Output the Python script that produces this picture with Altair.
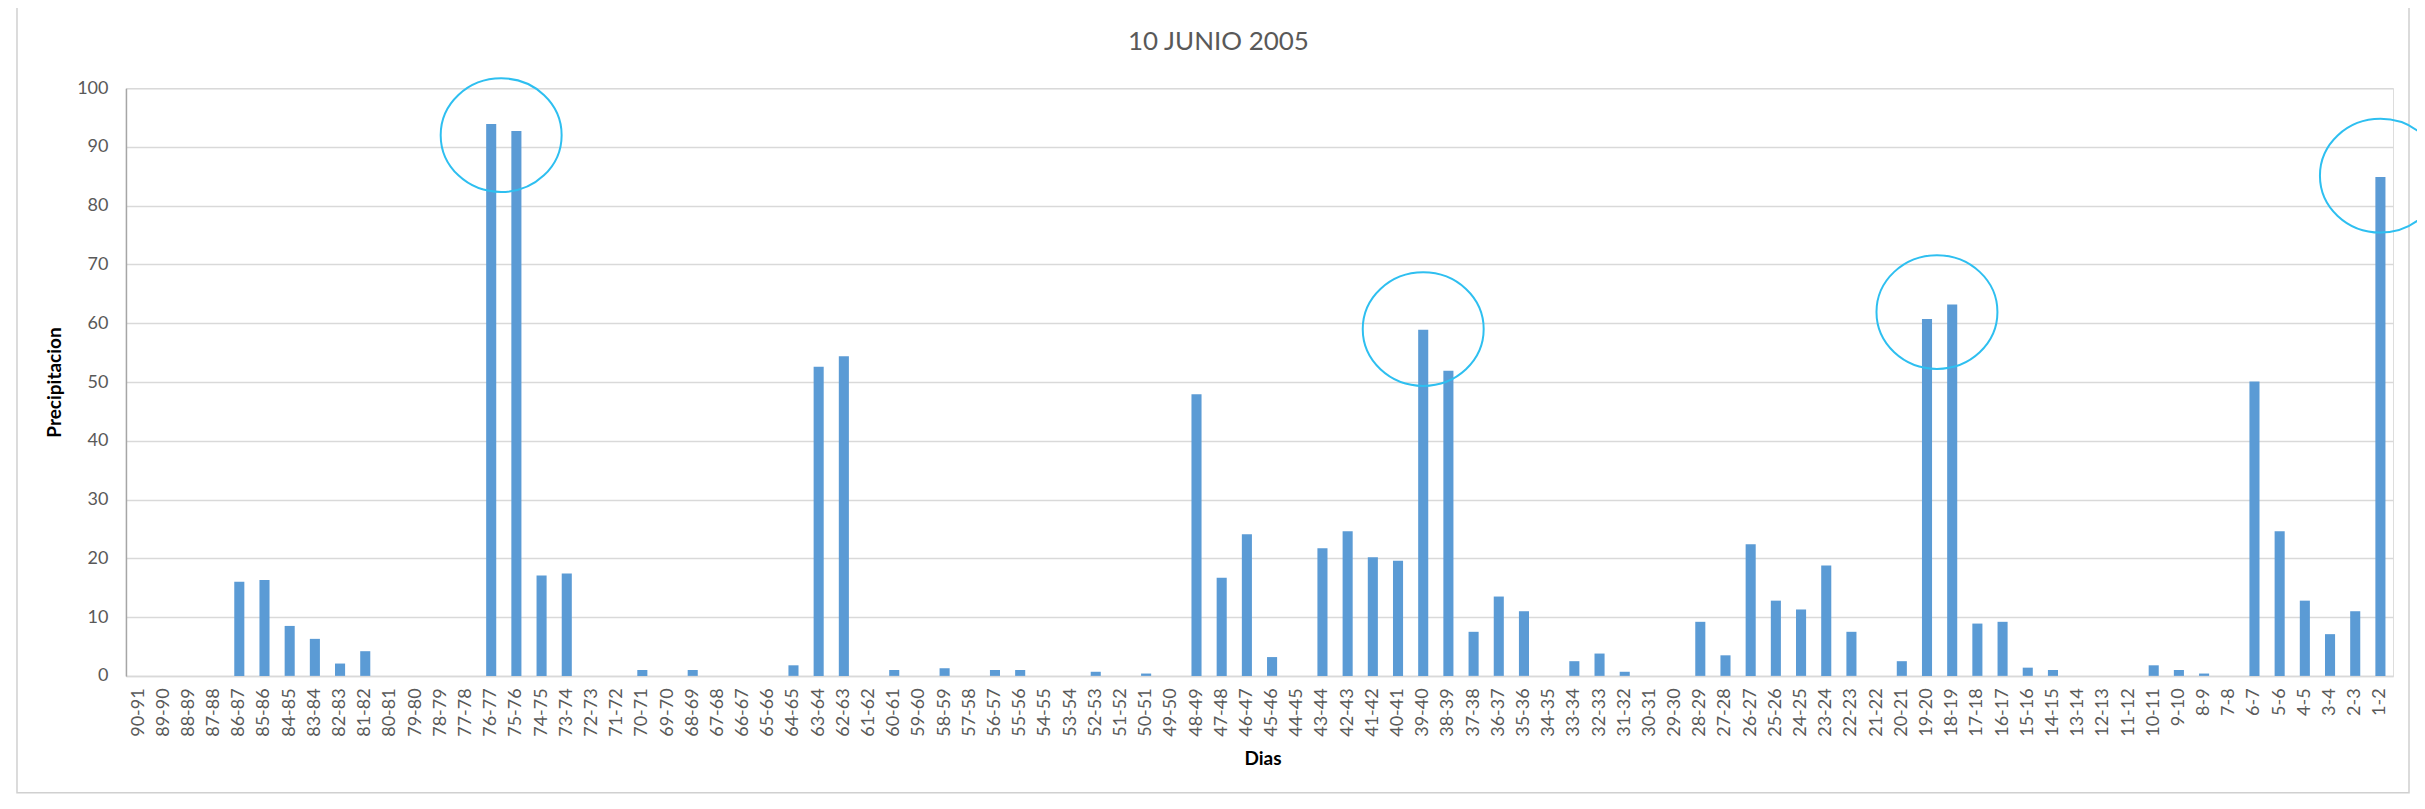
import altair as alt
import pandas as pd

dias = [
    "90-91", "89-90", "88-89", "87-88", "86-87", "85-86", "84-85", "83-84", "82-83", "81-82",
    "80-81", "79-80", "78-79", "77-78", "76-77", "75-76", "74-75", "73-74", "72-73", "71-72",
    "70-71", "69-70", "68-69", "67-68", "66-67", "65-66", "64-65", "63-64", "62-63", "61-62",
    "60-61", "59-60", "58-59", "57-58", "56-57", "55-56", "54-55", "53-54", "52-53", "51-52",
    "50-51", "49-50", "48-49", "47-48", "46-47", "45-46", "44-45", "43-44", "42-43", "41-42",
    "40-41", "39-40", "38-39", "37-38", "36-37", "35-36", "34-35", "33-34", "32-33", "31-32",
    "30-31", "29-30", "28-29", "27-28", "26-27", "25-26", "24-25", "23-24", "22-23", "21-22",
    "20-21", "19-20", "18-19", "17-18", "16-17", "15-16", "14-15", "13-14", "12-13", "11-12",
    "10-11", "9-10", "8-9", "7-8", "6-7", "5-6", "4-5", "3-4", "2-3", "1-2",
]
precipitacion = [
    0, 0, 0, 0, 16.0, 16.3, 8.5, 6.3, 2.1, 4.2,
    0, 0, 0, 0, 93.9, 92.7, 17.1, 17.4, 0, 0,
    1.0, 0, 1.0, 0, 0, 0, 1.8, 52.6, 54.4, 0,
    1.0, 0, 1.3, 0, 1.0, 1.0, 0, 0, 0.7, 0,
    0.4, 0, 47.9, 16.7, 24.1, 3.2, 0, 21.7, 24.6, 20.2,
    19.6, 58.9, 51.9, 7.5, 13.5, 11.0, 0, 2.5, 3.8, 0.7,
    0, 0, 9.2, 3.5, 22.4, 12.8, 11.3, 18.8, 7.5, 0,
    2.5, 60.7, 63.2, 8.9, 9.2, 1.4, 1.0, 0, 0, 0,
    1.8, 1.0, 0.4, 0, 50.1, 24.6, 12.8, 7.1, 11.0, 84.9,
]
y_ticks = [0, 10, 20, 30, 40, 50, 60, 70, 80, 90, 100]

# highlighted peaks (cyan ellipses)
circ_pair_dias = ["76-77", "19-20"]
circ_pair_val = [92.0, 61.9]
circ_single_dias = ["39-40", "1-2"]
circ_single_val = [59.0, 85.1]

FONT = "Lato"
GREY = "#595959"

df = pd.DataFrame({"Dias": dias, "Precipitacion": precipitacion})
df_pair = pd.DataFrame({"Dias": circ_pair_dias, "Precipitacion": circ_pair_val})
df_single = pd.DataFrame({"Dias": circ_single_dias, "Precipitacion": circ_single_val})
df_frame = pd.DataFrame({"k": [0]})

x_scale = alt.Scale(domain=dias, paddingInner=0.6, paddingOuter=0.3)
y_scale = alt.Scale(domain=[0, 100], nice=False)

x_axis = alt.Axis(
    title="Dias", labelAngle=-90, labelFontSize=18, labelColor=GREY, labelFont=FONT,
    ticks=False, tickSize=0, labelPadding=12, domainColor="#D9D9D9", domainWidth=1.5,
    grid=False, labelOverlap=False,
    titleFont=FONT, titleFontSize=19, titleFontWeight="bold", titleColor="#000000",
    titleX=1137, titleY=83, titleAlign="center", titleBaseline="middle",
)
y_axis = alt.Axis(
    title="Precipitacion", values=y_ticks, labelFontSize=18, labelColor=GREY, labelFont=FONT,
    ticks=False, tickSize=0, labelPadding=18, domainColor="#A6A6A6", domainWidth=1.5,
    grid=True, gridColor="#D9D9D9", gridWidth=1.5,
    titleFont=FONT, titleFontSize=19, titleFontWeight="bold", titleColor="#000000",
    titleX=-71, titleY=294, titleAngle=-90, titleAlign="center", titleBaseline="middle",
)

bars = alt.Chart(df).mark_bar(color="#5B9BD5").encode(
    x=alt.X("Dias:N", sort=dias, scale=x_scale, axis=x_axis),
    y=alt.Y("Precipitacion:Q", scale=y_scale, axis=y_axis),
)

ell_path = "M -1 0 A 1 0.94 0 1 0 1 0 A 1 0.94 0 1 0 -1 0 Z"
ring_style = dict(shape=ell_path, size=14641, filled=False, stroke="#2EBFF0",
                  strokeWidth=2, opacity=1)

rings_pair = alt.Chart(df_pair).mark_point(**ring_style).encode(
    x=alt.X("Dias:N", sort=dias, scale=x_scale),
    y=alt.Y("Precipitacion:Q", scale=y_scale),
    xOffset=alt.value(15),
)
rings_single = alt.Chart(df_single).mark_point(**ring_style).encode(
    x=alt.X("Dias:N", sort=dias, scale=x_scale),
    y=alt.Y("Precipitacion:Q", scale=y_scale),
)

frame = alt.Chart(df_frame).mark_rect(filled=False, stroke="#D0D0D0", strokeWidth=1.5).encode(
    x=alt.value(-109), x2=alt.value(2284), y=alt.value(-83), y2=alt.value(705),
)

chart = alt.layer(frame, bars, rings_pair, rings_single).properties(
    width=2268,
    height=588,
    title=alt.Title("10 JUNIO 2005", fontSize=26, font=FONT, fontWeight="normal",
                    color=GREY, anchor="middle", frame="group", dx=-41, offset=-64,
                    baseline="middle"),
    padding={"left": 118, "top": 80, "right": 24, "bottom": 118},
    autosize=alt.AutoSizeParams(type="none"),
).configure_view(stroke=None).configure(background="white")

chart.save("out.html", embed_options={"renderer": "svg", "actions": False})
